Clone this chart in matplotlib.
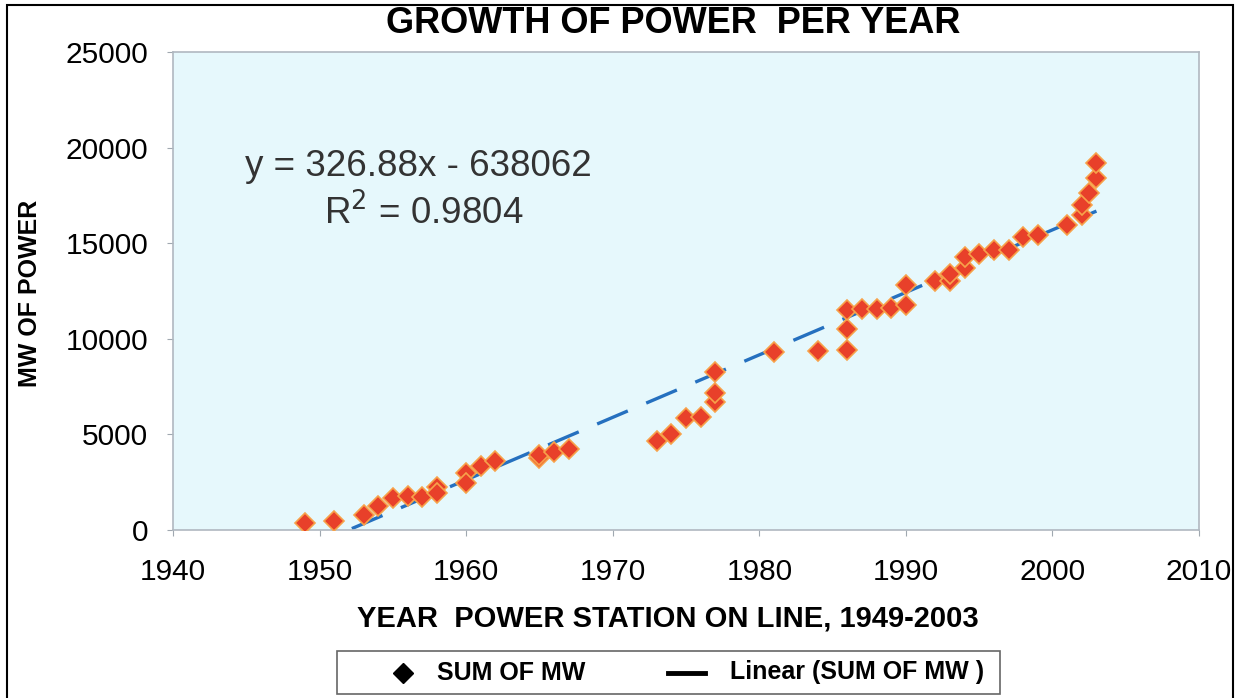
import matplotlib
matplotlib.use("Agg")
import matplotlib.pyplot as plt
import numpy as np
from matplotlib.lines import Line2D
from matplotlib.patches import Rectangle

plt.rcParams['font.family'] = ['Liberation Sans', 'DejaVu Sans']

# year each station came on line, and cumulative MW
years = [1949, 1951, 1953, 1954, 1955, 1956, 1957, 1958, 1958, 1960, 1960, 1961, 1962,
         1965, 1965, 1966, 1967, 1973, 1974, 1975, 1976, 1977, 1977, 1977, 1981, 1984,
         1986, 1986, 1986, 1987, 1988, 1989, 1990, 1990, 1992, 1993, 1993, 1994, 1994,
         1995, 1996, 1997, 1998, 1999, 2001, 2002, 2002, 2002.5, 2003, 2003]
mw = [350, 470, 780, 1250, 1650, 1800, 1750, 2250, 1950, 3000, 2450, 3350, 3600,
      3750, 3900, 4100, 4250, 4650, 5000, 5850, 5900, 6700, 7150, 8250, 9300, 9350,
      9400, 10500, 11500, 11550, 11550, 11600, 11750, 12800, 13000, 13000, 13400, 13700, 14300,
      14450, 14650, 14650, 15350, 15450, 15950, 16450, 17000, 17600, 18400, 19200]

slope = 326.88
intercept = -638062
r2 = 0.9804
trend_x = [1952.2, 2003]

W, H = 1235, 698
fig = plt.figure(figsize=(W / 100, H / 100), dpi=100)
ax = fig.add_axes([0.1401, 0.2407, 0.8308, 0.6848])
ax.set_facecolor('#e6f8fc')

tx = np.array(trend_x)
ax.plot(tx, slope * tx + intercept, color='#2570bf', lw=2.4, dashes=(10, 6), zorder=2)
ax.plot(years, mw, 'D', color='#e8402a', mec='#f7a24a', mew=1.2, ms=10.5, zorder=3)

ax.set_xlim(1940, 2010)
ax.set_ylim(0, 25000)
ax.set_xticks(range(1940, 2011, 10))
ax.set_yticks(range(0, 25001, 5000))
ax.tick_params(axis='both', labelsize=21.5, length=4, color='#a0a8b0')
ax.tick_params(axis='x', pad=16)
ax.tick_params(axis='y', pad=14)
for s in ax.spines.values():
    s.set_color('#b0b8c0')
    s.set_linewidth(1.2)

ax.text(1944.9, 19000, 'y = 326.88x - 638062', fontsize=26.5, color='#333333', ha='left', va='center')
ax.text(1950.3, 16600, 'R$^2$ = 0.9804', fontsize=26.5, color='#333333', ha='left', va='center')

fig.text(0.545, 0.966, 'GROWTH OF POWER  PER YEAR', fontsize=26, fontweight='bold', ha='center', va='center')
fig.text(0.024, 0.58, 'MW OF POWER', fontsize=18, fontweight='bold', rotation=90, ha='center', va='center')
fig.text(0.541, 0.114, 'YEAR  POWER STATION ON LINE, 1949-2003', fontsize=21, fontweight='bold', ha='center', va='center')

# figure frame
fig.patches.append(Rectangle((0.006, -0.01), 0.992, 1.003, transform=fig.transFigure,
                             fill=False, ec='black', lw=1.5))

# legend box, laid out by hand (pixel positions from the left / top)
def fx(px):
    return px / W

def fy(py):
    return 1 - py / H

fig.patches.append(Rectangle((fx(337), fy(694)), fx(1000) - fx(337), fy(651) - fy(694),
                             transform=fig.transFigure, fill=False, ec='#666666', lw=1.2))
ly = fy(672.5)
fig.lines.append(Line2D([fx(403)], [ly], marker='D', ls='none', color='black', ms=10,
                        transform=fig.transFigure))
fig.lines.append(Line2D([fx(668), fx(705)], [ly, ly], color='black', lw=3.5,
                        transform=fig.transFigure))
fig.text(fx(437), ly, 'SUM OF MW', fontsize=18, fontweight='bold', ha='left', va='center')
fig.text(fx(730), ly, 'Linear (SUM OF MW )', fontsize=18, fontweight='bold', ha='left', va='center')

fig.savefig('out.png', dpi=100)
